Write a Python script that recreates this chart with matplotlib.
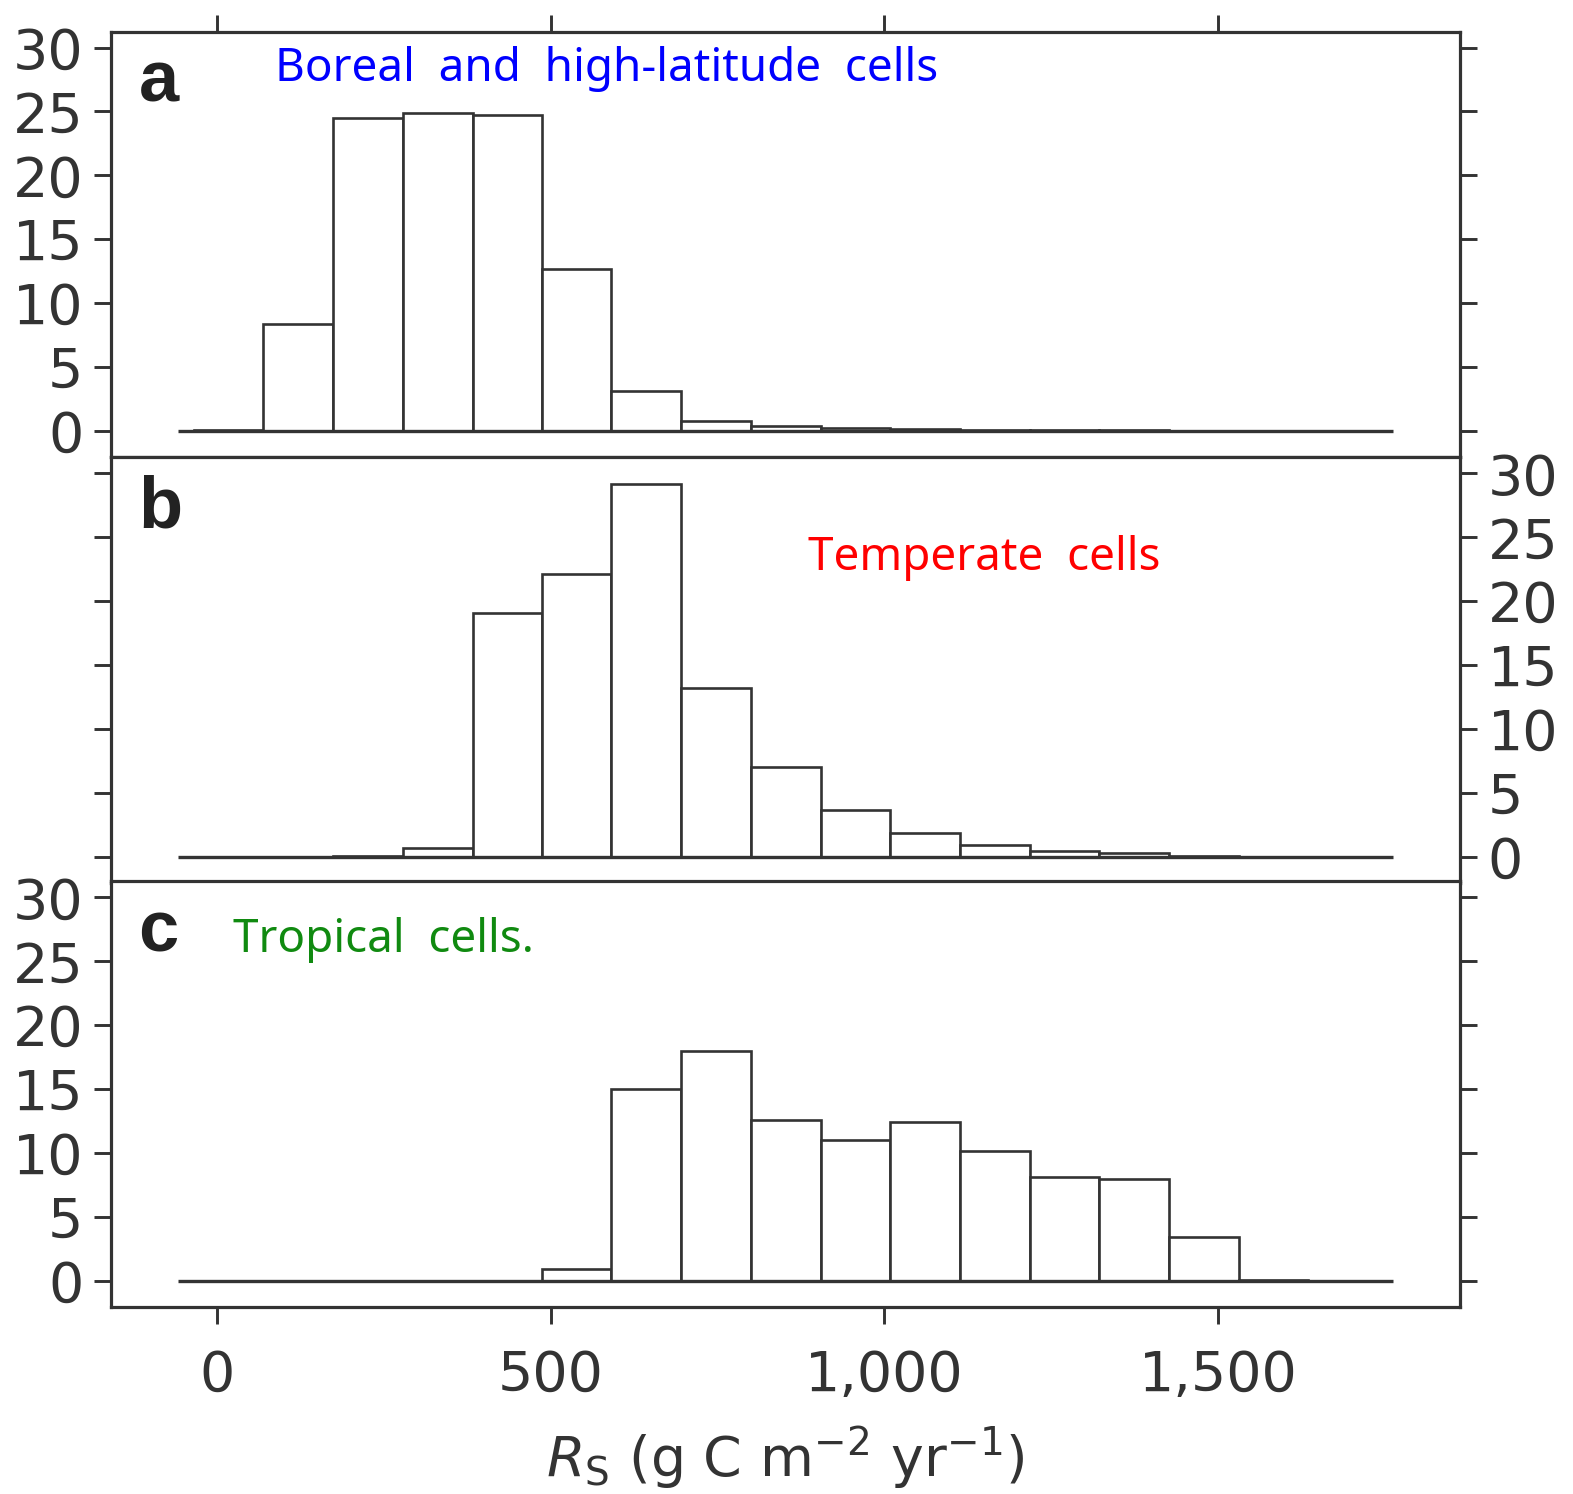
import numpy as np
import matplotlib
matplotlib.use("Agg")
from matplotlib import pyplot as plt

# bin edges of the soil respiration histograms (g C m-2 yr-1)
binEdges = [-35, 69, 174, 278, 383, 487, 591, 696, 800, 905, 1009, 1113, 1218, 1322, 1427, 1531, 1635, 1740]

# percent of cells in each bin
borealCounts = [0.05, 8.4, 24.5, 24.9, 24.7, 12.7, 3.1, 0.8, 0.35, 0.2, 0.15, 0.1, 0.05, 0.05, 0, 0, 0]
temperateCounts = [0, 0, 0.1, 0.7, 19.1, 22.1, 29.2, 13.2, 7.0, 3.7, 1.9, 0.9, 0.45, 0.3, 0.1, 0, 0]
tropicalCounts = [0, 0, 0, 0, 0, 0.9, 15.0, 18.0, 12.6, 11.0, 12.4, 10.2, 8.1, 8.0, 3.4, 0.05, 0]

panelLetters = ["a", "b", "c"]
panelNotes = ["Boreal  and  high-latitude  cells", "Temperate  cells", "Tropical  cells."]
noteColors = ["#0000ff", "#ff0000", "#108a10"]
notePositions = [(87, 28.3), (886, 23.4), (24, 26.7)]

xTicks = [0, 500, 1000, 1500]
xTickLabels = ["0", "500", "1,000", "1,500"]
yTicks = [0, 5, 10, 15, 20, 25, 30]
baselineRange = (-58, 1762)

INK = "#333333"

fig = plt.figure(figsize=(15.73, 14.94), dpi=100)
left, width = 0.0706, 0.8576
bottoms = [0.6941, 0.4090, 0.1252]
height = 0.2848

allCounts = [borealCounts, temperateCounts, tropicalCounts]
edges = np.array(binEdges)

for i, counts in enumerate(allCounts):
    ax = fig.add_axes([left, bottoms[i], width, height])
    ax.bar(edges[:-1], counts, width=np.diff(edges), align="edge",
           facecolor="white", edgecolor=INK, linewidth=1.9, zorder=2)
    ax.hlines(0, baselineRange[0], baselineRange[1], color=INK, linewidth=2.4, zorder=3)

    ax.set_xlim(-159, 1863)
    ax.set_ylim(-2.04, 31.25)

    for s in ax.spines.values():
        s.set_color(INK)
        s.set_linewidth(2.3)

    ax.set_yticks(yTicks)
    ax.set_xticks(xTicks)
    ax.tick_params(axis="both", direction="out", length=12, width=2.1, color=INK,
                   labelcolor=INK, labelsize=40, pad=8)
    ax.tick_params(axis="y", left=True, right=True,
                   labelleft=(i != 1), labelright=(i == 1))
    if i == 0:
        ax.tick_params(axis="x", top=True, bottom=False, labeltop=False, labelbottom=False)
    elif i == 1:
        ax.tick_params(axis="x", top=False, bottom=False, labeltop=False, labelbottom=False)
    else:
        ax.set_xticklabels(xTickLabels)
        ax.tick_params(axis="x", top=False, bottom=True, pad=18)
        ax.set_xlabel(r"$R_{\rm S}$ (g C m$^{-2}$ yr$^{-1}$)", fontsize=40, color=INK, labelpad=16)

    ax.text(-118, 25.8, panelLetters[i], fontsize=52, fontweight="bold",
            family="Liberation Sans", color="#222222", va="baseline", ha="left")
    ax.text(notePositions[i][0], notePositions[i][1], panelNotes[i], fontsize=33,
            family="Noto Sans", color=noteColors[i], va="center", ha="left")

plt.savefig("out.png", dpi=100)
